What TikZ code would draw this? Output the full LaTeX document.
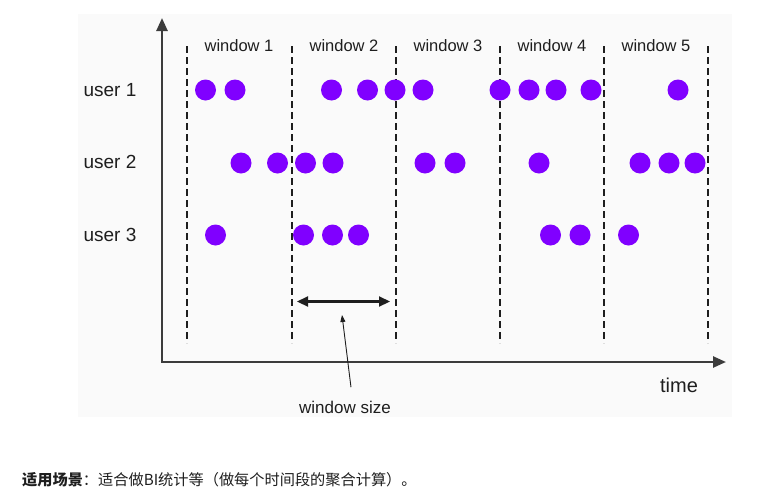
\documentclass[tikz,border=0pt]{standalone}
\usepackage{fontspec}
\setmainfont{Liberation Sans}
\newfontfamily\cjk{Noto Sans CJK SC}
\usetikzlibrary{arrows.meta}
\definecolor{evpurple}{RGB}{128,0,255}
\definecolor{panelgray}{RGB}{250,250,250}
\definecolor{inkgray}{RGB}{30,30,30}
\definecolor{axisgray}{RGB}{60,60,60}

\tikzset{
  evdot/.style={circle, fill=evpurple, minimum size=21pt, inner sep=0pt},
  userlabel/.style={font=\fontsize{19}{22}\selectfont, text=inkgray, anchor=west},
  winlabel/.style={font=\fontsize{16.5}{20}\selectfont, text=inkgray},
  winline/.style={line width=2pt, dash pattern=on 7pt off 4pt, draw=inkgray},
  timeaxis/.style={line width=2.5pt, draw=axisgray, line join=miter,
    {Triangle[length=13pt,width=11pt]}-{Triangle[length=13pt,width=11pt]}},
  sizearrow/.style={line width=2.2pt, draw=inkgray,
    {Triangle[length=11pt,width=10pt]}-{Triangle[length=11pt,width=10pt]}},
  pointer/.style={line width=0.9pt, draw=inkgray, -{Triangle[length=7pt,width=5pt]}},
}

\begin{document}
\begin{tikzpicture}[x=1pt, y=-1pt]
    \useasboundingbox (0,0) rectangle (769,501);
    % Panel
    \fill[panelgray] (78,14) rectangle (732,417);

    % Window borders and titles
    \foreach \x in {187,292,396,500,604,708}
        \draw[winline] (\x,46) -- (\x,343);
    \foreach \x [count=\i] in {239,344,448,552,656}
        \node[winlabel] (win\i) at (\x,46) {window \i};

    % User rows
    \node[userlabel] (user1) at (80,90) {user 1};
    \node[userlabel] (user2) at (80,162) {user 2};
    \node[userlabel] (user3) at (80,235) {user 3};

    % Events
    \foreach \x [count=\i] in {205.5,235,331.5,367.5,395,423,500,529,556,591,678}
        \node[evdot] (ua\i) at (\x,90) {};
    \foreach \x [count=\i] in {241,277.5,305.5,333,425,455,539,640,669,695}
        \node[evdot] (ub\i) at (\x,163) {};
    \foreach \x [count=\i] in {215.5,303.5,332.5,358.5,550.5,580,628.5}
        \node[evdot] (uc\i) at (\x,235) {};

    % Axes
    \coordinate (origin) at (162,362);
    \coordinate (ytop) at (162,18);
    \coordinate (xend) at (726,362);
    \draw[timeaxis] (ytop) -- (origin) -- (xend);
    \node[font=\fontsize{20}{24}\selectfont, text=inkgray] (timelbl) at (679,385) {time};

    % Window size
    \coordinate (wsL) at (297,301.5);
    \coordinate (wsR) at (390,301.5);
    \draw[sizearrow] (wsL) -- (wsR);
    \node[font=\fontsize{17}{20}\selectfont, text=inkgray] (wsize) at (345,407) {window size};
    \coordinate (wsTip) at (342,315);
    \draw[pointer] ([xshift=6pt,yshift=10pt]wsize.north) -- (wsTip);

    % Note
    \node[anchor=west, font=\cjk\fontsize{15.2}{18}\selectfont, text=inkgray, inner sep=0pt] (note) at (22,480)
        {\textbf{适用场景}：适合做BI统计等（做每个时间段的聚合计算）。};
\end{tikzpicture}
\end{document}
